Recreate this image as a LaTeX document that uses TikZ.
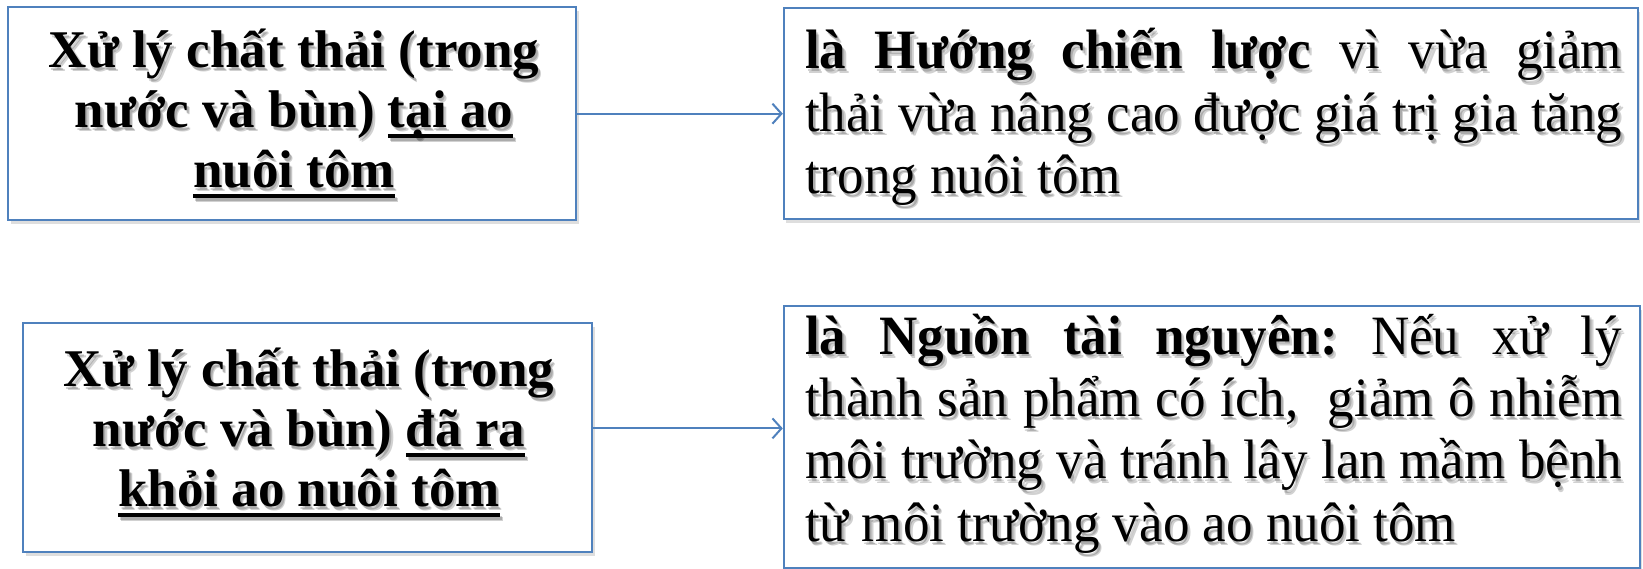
\documentclass[tikz,border=0pt]{standalone}
\usepackage{fontspec}
\setmainfont{Liberation Serif}
\newfontfamily\narrowserif[FakeStretch=0.955]{Liberation Serif}
\usetikzlibrary{arrows.meta,shadows}

\definecolor{boxblue}{HTML}{4F81BD}

% thick underline drawn below the baseline
\newcommand{\thickul}[1]{\setbox0=\hbox{#1}\rlap{\rule[-10pt]{\wd0}{4pt}}\box0}
% paragraph settings for the justified boxes
\newcommand{\justpar}{\frenchspacing\tolerance=9999\relax \hyphenpenalty=10000\relax \emergencystretch=20pt\relax}

\newcommand{\txtA}{Xử lý chất thải (trong\\ nước và bùn) \thickul{tại ao}\\ \thickul{nuôi tôm}}
\newcommand{\txtC}{Xử lý chất thải (trong\\ nước và bùn) \thickul{đã ra}\\ \thickul{khỏi ao nuôi tôm}}
\newcommand{\txtB}{\justpar{\bfseries là Hướng chiến lược} vì vừa giảm\linebreak thải vừa nâng cao được giá trị gia tăng\linebreak trong nuôi tôm}
\newcommand{\txtD}{\justpar{\bfseries là Nguồn tài nguyên:} Nếu xử lý\linebreak thành sản phẩm có ích, \ giảm ô nhiễm\linebreak môi trường và tránh lây lan mầm bệnh\linebreak từ môi trường vào ao nuôi tôm}

% text with a soft drop shadow: #1 style, #2 position, #3 name, #4 text
\newcommand{\shadowed}[4]{%
  \foreach \dx/\dy/\k in {1.8/2.8/1, 3.2/4.2/2}{
    \node[#1, shift={(\dx,\dy)}, text=black, text opacity=0.18] (#3s\k) at (#2) {#4};}
  \node[#1] (#3) at (#2) {#4};}

\tikzset{
  frame/.style={draw=boxblue, line width=2pt, fill=white,
    drop shadow={shadow xshift=2.5pt, shadow yshift=-4pt, fill=black, opacity=0.13}},
  lefttext/.style={font=\fontsize{53}{60}\selectfont\bfseries, align=center, inner sep=0pt},
  righttext/.style={font=\narrowserif\fontsize{55.5}{62.4}\selectfont,
    text width=817pt, align=justify, inner sep=0pt, anchor=base west},
  link/.style={draw=boxblue, line width=2pt, -{Straight Barb[length=9pt,width=20pt]}},
}

\begin{document}
\begin{tikzpicture}[x=1pt, y=-1pt]
  \fill[white] (0,0) rectangle (1643,569);
  \useasboundingbox (0,0) rectangle (1643,569);

  % frames
  \node[frame, minimum width=568pt, minimum height=213pt] (A) at (292.4,113.7) {};
  \node[frame, minimum width=854pt, minimum height=211pt] (B) at (1210.8,113.7) {};
  \node[frame, minimum width=569pt, minimum height=229pt] (C) at (307.5,437.4) {};
  \node[frame, minimum width=856pt, minimum height=262pt] (D) at (1211.8,437) {};

  % texts
  \shadowed{lefttext}{294,113.5}{At}{\txtA}
  \shadowed{lefttext}{309,432.5}{Ct}{\txtC}
  \shadowed{righttext}{805,69}{Bt}{\txtB}
  \shadowed{righttext}{805,354}{Dt}{\txtD}

  % connectors
  \draw[link] (A.east) -- (B.west);
  \draw[link] ([yshift=9pt]C.east) -- ([yshift=9pt]C.east -| D.west);
\end{tikzpicture}
\end{document}
